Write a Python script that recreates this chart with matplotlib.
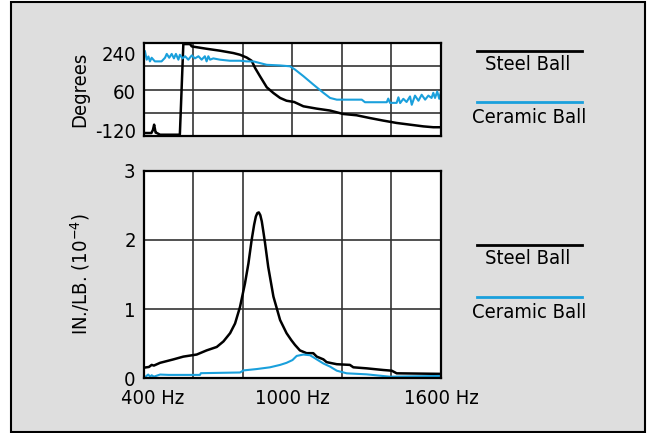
import matplotlib
matplotlib.use('Agg')
import matplotlib.pyplot as plt
import matplotlib.transforms as mtransforms
from matplotlib import font_manager as fm
from matplotlib.patches import Rectangle
from matplotlib.lines import Line2D

# look for a narrow sans face, the original uses a condensed Helvetica
narrow = [f for f in fm.fontManager.ttflist
          if ('Narrow' in f.name or 'Condensed' in f.name or 'condensed' in str(f.stretch))
          and f.style == 'normal' and f.weight in (400, 'normal', 'regular')]
narrow.sort(key=lambda f: (0 if 'Liberation' in f.name else 1 if 'DejaVu' in f.name else 2))
if narrow:
    plt.rcParams['font.family'] = [narrow[0].name, 'DejaVu Sans']
    plt.rcParams['font.stretch'] = narrow[0].stretch
else:
    plt.rcParams['font.family'] = ['Liberation Sans', 'DejaVu Sans']
plt.rcParams['axes.unicode_minus'] = False
plt.rcParams['mathtext.fontset'] = 'custom'
plt.rcParams['mathtext.rm'] = plt.rcParams['font.family'][0]

BLUE = '#1aa0dc'
FS = 14.5

# phase (degrees) vs frequency (Hz)
steel_phase_f = [400, 430, 436, 441, 447, 452, 465, 539, 545, 559, 586, 593, 653, 707,
                 761, 788, 815, 835, 849, 869, 896, 923, 950, 976, 1007, 1044, 1098,
                 1152, 1205, 1259, 1313, 1367, 1421, 1475, 1529, 1569, 1600]
steel_phase = [-134, -134, -120, -95, -132, -134, -142, -142, -140, 282, 282, 271, 260,
               251, 240, 232, 219, 204, 170, 131, 80, 53, 30, 17, 11, -9, -20, -29, -45,
               -51, -64, -76, -87, -95, -103, -107, -107]

ceramic_phase_f = [404, 411, 418, 424, 431, 444, 458, 471, 485, 492, 502, 512, 521, 529,
                   539, 545, 556, 566, 579, 593, 606, 620, 633, 646, 653, 660, 667, 680,
                   707, 747, 788, 815, 842, 869, 896, 950, 990, 1010, 1044, 1084, 1125,
                   1152, 1179, 1280, 1293, 1381, 1387, 1394, 1421, 1428, 1435, 1448, 1461,
                   1475, 1482, 1495, 1509, 1522, 1536, 1549, 1562, 1569, 1576, 1585, 1593,
                   1600]
ceramic_phase = [248, 209, 224, 201, 218, 201, 201, 201, 218, 236, 218, 236, 215, 236,
                 209, 232, 215, 225, 209, 229, 215, 225, 209, 225, 201, 225, 209, 215,
                 209, 204, 204, 201, 201, 193, 185, 182, 178, 163, 132, 93, 54, 30, 22,
                 22, 10, 10, 27, 7, 7, 33, 6, 26, 11, 37, -2, 41, 17, 45, 22, 41, 30, 54,
                 30, 60, 26, 57]

# compliance (IN./LB. x 1e-4) vs frequency (Hz)
steel_mag_f = [400, 420, 431, 440, 465, 519, 559, 613, 653, 694, 721, 748, 768, 788, 808,
               822, 835, 845, 852, 858, 864, 870, 876, 882, 889, 902, 923, 950, 976, 995,
               1010, 1030, 1057, 1084, 1098, 1125, 1138, 1165, 1179, 1232, 1246, 1300,
               1367, 1401, 1421, 1600]
steel_mag = [0.15, 0.16, 0.19, 0.18, 0.22, 0.27, 0.31, 0.34, 0.40, 0.45, 0.53, 0.65, 0.79,
             1.03, 1.37, 1.66, 2.00, 2.22, 2.34, 2.39, 2.40, 2.36, 2.27, 2.13, 1.96, 1.61,
             1.18, 0.84, 0.65, 0.55, 0.48, 0.40, 0.36, 0.36, 0.31, 0.27, 0.23, 0.21, 0.20,
             0.19, 0.155, 0.14, 0.116, 0.106, 0.068, 0.06]

ceramic_mag_f = [400, 410, 417, 425, 431, 440, 465, 500, 626, 630, 788, 802, 856, 909, 950,
                 976, 1000, 1017, 1044, 1071, 1098, 1125, 1152, 1179, 1219, 1300, 1394, 1600]
ceramic_mag = [0.0, 0.03, 0.05, 0.02, 0.04, 0.02, 0.05, 0.045, 0.045, 0.07, 0.08, 0.11,
               0.13, 0.155, 0.19, 0.22, 0.26, 0.32, 0.34, 0.33, 0.27, 0.21, 0.165, 0.106,
               0.068, 0.053, 0.019, 0.03]

freq_grid = [400, 600, 800, 1000, 1200, 1400, 1600]
xtick_pos = [400, 1000, 1600]
xtick_labels = ['400 Hz', '1000 Hz', '1600 Hz']
phase_ticks = [240, 60, -120]
mag_ticks = [0, 1, 2, 3]

fig = plt.figure(figsize=(6.48, 4.33), dpi=100)
fig.patch.set_facecolor('white')
fig.add_artist(Rectangle((11 / 648, 1 / 433), 634 / 648, 430 / 433,
                         transform=fig.transFigure, facecolor='#dedede',
                         edgecolor='black', linewidth=1.5, zorder=-10))

ax1 = fig.add_axes([0.2222, 0.6859, 0.4583, 0.2148])
ax2 = fig.add_axes([0.2222, 0.1270, 0.4583, 0.4781])

for ax in (ax1, ax2):
    ax.set_facecolor('white')
    for s in ax.spines.values():
        s.set_linewidth(1.6)
        s.set_color('black')
    ax.set_xlim(400, 1600)
    ax.set_xticks(freq_grid, minor=True)
    ax.tick_params(which='both', length=0, labelsize=FS, pad=6)
    ax.grid(True, which='minor', axis='x', color='#333333', linewidth=1.2)

# phase panel
ax1.plot(steel_phase_f, steel_phase, color='black', lw=1.8)
ax1.plot(ceramic_phase_f, ceramic_phase, color=BLUE, lw=1.5)
ax1.set_ylim(-148, 287)
ax1.set_xticks([])
ax1.set_yticks(phase_ticks)
for fr in (0.25, 0.5, 0.75):
    ax1.plot([0, 1], [fr, fr], transform=ax1.transAxes, color='#333333', lw=1.2, zorder=0.5)
ax1.set_ylabel('Degrees', fontsize=FS)
ax1.yaxis.set_label_coords(-0.185, 0.5)

# magnitude panel
ax2.plot(steel_mag_f, steel_mag, color='black', lw=1.8)
ax2.plot(ceramic_mag_f, ceramic_mag, color=BLUE, lw=1.5)
ax2.set_ylim(0, 3)
ax2.set_yticks(mag_ticks)
ax2.set_xticks(xtick_pos)
ax2.set_xticklabels(xtick_labels)
ax2.tick_params(axis='x', pad=8)
ax2.grid(True, which='major', axis='y', color='#333333', linewidth=1.2)
ax2.set_ylabel(r'IN./LB. (10$^{\mathrm{-4}}$)', fontsize=FS)
ax2.yaxis.set_label_coords(-0.175, 0.5)

# first x label sits a little right of its tick in the original
first = ax2.get_xticklabels()[0]
first.set_transform(first.get_transform() +
                    mtransforms.ScaledTranslation(9 / 100, 0, fig.dpi_scale_trans))

# legends
def legend(y_black, y_blue):
    fig.add_artist(Line2D([477 / 648, 582 / 648], [1 - y_black / 433] * 2,
                          transform=fig.transFigure, color='black', lw=2))
    fig.text(528 / 648, 1 - (y_black + 14) / 433, 'Steel Ball', fontsize=FS,
             ha='center', va='center')
    fig.add_artist(Line2D([477 / 648, 582 / 648], [1 - y_blue / 433] * 2,
                          transform=fig.transFigure, color=BLUE, lw=2))
    fig.text(529 / 648, 1 - (y_blue + 15) / 433, 'Ceramic Ball', fontsize=FS,
             ha='center', va='center')

legend(51, 102)
legend(245, 297)

fig.savefig('out.png', dpi=100)
